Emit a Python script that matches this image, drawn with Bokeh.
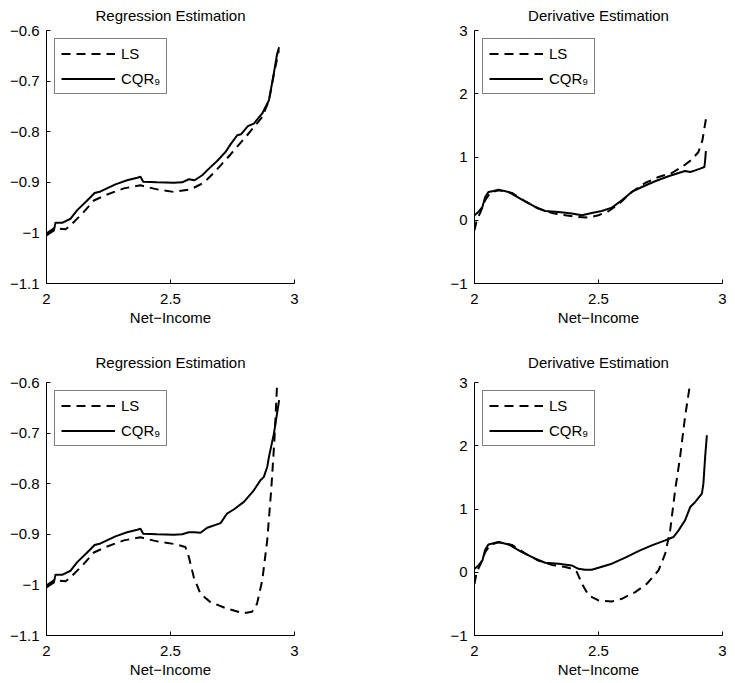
from bokeh.plotting import figure
from bokeh.models import Range1d, FixedTicker
from bokeh.layouts import column, row
from bokeh.embed import file_html
from bokeh.resources import INLINE

FONT = "Liberation Sans"
FS = "15px"

x_ticks = [2, 2.5, 3]
x_tick_labels = ["2", "2.5", "3"]
reg_ticks = [-1.1, -1.0, -0.9, -0.8, -0.7, -0.6]
reg_tick_labels = ["\u22121.1", "\u22121", "\u22120.9", "\u22120.8", "\u22120.7", "\u22120.6"]
der_ticks = [-1, 0, 1, 2, 3]
der_tick_labels = ["\u22121", "0", "1", "2", "3"]

titles = ["Regression Estimation", "Derivative Estimation"]
x_label = "Net\u2212Income"
series_names = ["LS", "CQR\u2089"]

# Top-left: regression estimation
reg1_cqr_x = [2.0, 2.03, 2.036, 2.063, 2.097, 2.124, 2.161, 2.194, 2.218, 2.278, 2.325, 2.366,
              2.379, 2.39, 2.446, 2.513, 2.547, 2.574, 2.597, 2.628, 2.655, 2.688, 2.722, 2.742,
              2.769, 2.785, 2.812, 2.836, 2.87, 2.897, 2.914, 2.93, 2.938]
reg1_cqr_y = [-1.005, -0.995, -0.98, -0.98, -0.972, -0.955, -0.9375, -0.921, -0.918, -0.904, -0.896, -0.891,
              -0.889, -0.899, -0.9, -0.901, -0.9, -0.894, -0.896, -0.886, -0.873, -0.858, -0.84, -0.825,
              -0.807, -0.805, -0.789, -0.784, -0.764, -0.738, -0.692, -0.646, -0.633]
reg1_ls_x = [2.0, 2.03, 2.077, 2.103, 2.144, 2.191, 2.245, 2.312, 2.379, 2.446, 2.513, 2.581,
             2.634, 2.681, 2.742, 2.809, 2.87, 2.897, 2.917, 2.937]
reg1_ls_y = [-1.001, -0.991, -0.993, -0.982, -0.962, -0.936, -0.924, -0.912, -0.906, -0.914, -0.919, -0.914,
             -0.901, -0.878, -0.845, -0.807, -0.771, -0.738, -0.686, -0.639]

# Top-right: derivative estimation
der1_cqr_x = [2.0, 2.016, 2.032, 2.043, 2.056, 2.077, 2.097, 2.137, 2.191, 2.245, 2.285, 2.339,
              2.392, 2.433, 2.473, 2.513, 2.554, 2.594, 2.634, 2.675, 2.728, 2.782, 2.823, 2.836,
              2.849, 2.87, 2.89, 2.91, 2.927, 2.93, 2.933]
der1_cqr_y = [0.079, 0.132, 0.21, 0.368, 0.447, 0.463, 0.484, 0.447, 0.326, 0.21, 0.147, 0.132,
              0.105, 0.079, 0.116, 0.147, 0.2, 0.316, 0.447, 0.526, 0.616, 0.695, 0.747, 0.763,
              0.779, 0.763, 0.789, 0.816, 0.842, 0.947, 1.095]
der1_ls_x = [2.0, 2.009, 2.023, 2.043, 2.063, 2.097, 2.151, 2.204, 2.258, 2.312, 2.366, 2.419,
             2.46, 2.5, 2.54, 2.581, 2.634, 2.688, 2.742, 2.796, 2.836, 2.876, 2.903, 2.919,
             2.93, 2.937]
der1_ls_y = [-0.158, 0.0, 0.116, 0.316, 0.432, 0.474, 0.432, 0.3, 0.184, 0.116, 0.079, 0.053,
             0.042, 0.079, 0.142, 0.253, 0.447, 0.589, 0.684, 0.747, 0.842, 0.958, 1.079, 1.263,
             1.526, 1.684]

# Bottom-left: regression estimation
reg2_cqr_x = [2.0, 2.03, 2.036, 2.063, 2.097, 2.124, 2.161, 2.194, 2.218, 2.278, 2.325, 2.366,
              2.379, 2.39, 2.446, 2.513, 2.547, 2.574, 2.597, 2.621, 2.648, 2.702, 2.728, 2.755,
              2.796, 2.836, 2.863, 2.876, 2.89, 2.897, 2.917, 2.938]
reg2_cqr_y = [-1.005, -0.995, -0.98, -0.98, -0.972, -0.955, -0.9375, -0.921, -0.918, -0.904, -0.896, -0.891,
              -0.889, -0.899, -0.9, -0.901, -0.9, -0.896, -0.896, -0.897, -0.887, -0.878, -0.859, -0.851,
              -0.836, -0.813, -0.793, -0.787, -0.767, -0.747, -0.701, -0.635]
reg2_ls_x = [2.0, 2.03, 2.077, 2.103, 2.144, 2.191, 2.245, 2.312, 2.379, 2.446, 2.513, 2.56,
             2.574, 2.594, 2.621, 2.661, 2.728, 2.796, 2.829, 2.849, 2.87, 2.89, 2.906, 2.919, 2.93]
reg2_ls_y = [-1.001, -0.991, -0.993, -0.982, -0.962, -0.936, -0.924, -0.912, -0.906, -0.914, -0.919, -0.925,
             -0.945, -0.985, -1.018, -1.034, -1.047, -1.056, -1.053, -1.037, -0.991, -0.912, -0.813, -0.714, -0.602]

# Bottom-right: derivative estimation
der2_cqr_x = [2.0, 2.016, 2.032, 2.043, 2.056, 2.097, 2.137, 2.191, 2.245, 2.285, 2.339, 2.392,
              2.419, 2.446, 2.473, 2.5, 2.554, 2.608, 2.661, 2.715, 2.769, 2.802, 2.823, 2.849,
              2.87, 2.89, 2.917, 2.923, 2.93, 2.937]
der2_cqr_y = [0.055, 0.108, 0.187, 0.356, 0.44, 0.478, 0.44, 0.319, 0.214, 0.15, 0.135, 0.108,
              0.055, 0.04, 0.04, 0.071, 0.135, 0.23, 0.335, 0.425, 0.504, 0.557, 0.662, 0.821,
              1.032, 1.111, 1.243, 1.401, 1.823, 2.166]
der2_ls_x = [2.0, 2.009, 2.023, 2.043, 2.063, 2.097, 2.151, 2.204, 2.258, 2.312, 2.366, 2.392,
             2.413, 2.433, 2.46, 2.5, 2.554, 2.594, 2.648, 2.695, 2.742, 2.769, 2.789, 2.809,
             2.829, 2.849, 2.87]
der2_ls_y = [-0.182, 0.003, 0.116, 0.316, 0.432, 0.474, 0.432, 0.3, 0.184, 0.116, 0.082, 0.055,
             0.003, -0.182, -0.367, -0.446, -0.462, -0.42, -0.314, -0.182, 0.029, 0.293, 0.662, 1.296,
             1.823, 2.456, 3.0]


def make_panel(title, yr, yticks, ylabels, ls_x, ls_y, cqr_x, cqr_y,
               width, height, mbl, mbr, mbt, mbb, title_standoff):
    p = figure(width=width, height=height, x_range=Range1d(2, 3), y_range=Range1d(*yr),
               output_backend="svg", toolbar_location=None,
               min_border_left=mbl, min_border_right=mbr, min_border_top=mbt, min_border_bottom=mbb,
               background_fill_color="white", border_fill_color="white")
    p.outline_line_color = None
    p.grid.visible = False
    p.title.text = title
    p.title.text_font = FONT
    p.title.text_font_size = FS
    p.title.text_font_style = "normal"
    p.title.align = "center"
    p.title.vertical_align = "top"
    p.title.standoff = title_standoff
    p.title.text_color = "black"

    for ax in (p.xaxis[0], p.yaxis[0]):
        ax.axis_line_color = "black"
        ax.axis_line_width = 1
        ax.major_tick_line_color = "black"
        ax.major_tick_in = 4
        ax.major_tick_out = 0
        ax.minor_tick_line_color = None
        ax.major_label_text_font = FONT
        ax.major_label_text_font_size = FS
        ax.major_label_text_color = "black"
        ax.axis_label_text_font = FONT
        ax.axis_label_text_font_size = FS
        ax.axis_label_text_font_style = "normal"
        ax.axis_label_text_color = "black"

    p.xaxis.ticker = FixedTicker(ticks=x_ticks)
    p.xaxis.major_label_overrides = {t: l for t, l in zip(x_ticks, x_tick_labels)}
    p.yaxis.ticker = FixedTicker(ticks=yticks)
    p.yaxis.major_label_overrides = {t: l for t, l in zip(yticks, ylabels)}
    p.xaxis.axis_label = x_label
    p.xaxis.major_label_standoff = 10
    p.xaxis.axis_label_standoff = 2
    p.yaxis.major_label_standoff = 7

    p.line(ls_x, ls_y, line_color="black", line_width=2, line_dash="9 6",
           legend_label=series_names[0])
    p.line(cqr_x, cqr_y, line_color="black", line_width=2,
           legend_label=series_names[1])

    lg = p.legend[0]
    lg.location = "top_left"
    lg.margin = 8
    lg.padding = 6
    lg.spacing = 8
    lg.label_height = 17
    lg.glyph_height = 17
    lg.glyph_width = 54
    lg.label_standoff = 6
    lg.label_text_font = FONT
    lg.label_text_font_size = FS
    lg.label_text_color = "black"
    lg.border_line_color = "black"
    lg.border_line_width = 1
    lg.background_fill_alpha = 1
    return p


p1 = make_panel(titles[0], (-1.1, -0.6), reg_ticks, reg_tick_labels,
                reg1_ls_x, reg1_ls_y, reg1_cqr_x, reg1_cqr_y,
                370, 340, 46, 76, 30, 57, 10)
p2 = make_panel(titles[1], (-1, 3), der_ticks, der_tick_labels,
                der1_ls_x, der1_ls_y, der1_cqr_x, der1_cqr_y,
                365, 340, 104, 13, 30, 57, 10)
p3 = make_panel(titles[0], (-1.1, -0.6), reg_ticks, reg_tick_labels,
                reg2_ls_x, reg2_ls_y, reg2_cqr_x, reg2_cqr_y,
                370, 343, 46, 76, 42, 48, 20)
p4 = make_panel(titles[1], (-1, 3), der_ticks, der_tick_labels,
                der2_ls_x, der2_ls_y, der2_cqr_x, der2_cqr_y,
                365, 343, 104, 13, 42, 48, 20)

layout = column(row(p1, p2), row(p3, p4))
open("out.html", "w").write(file_html(layout, INLINE))
